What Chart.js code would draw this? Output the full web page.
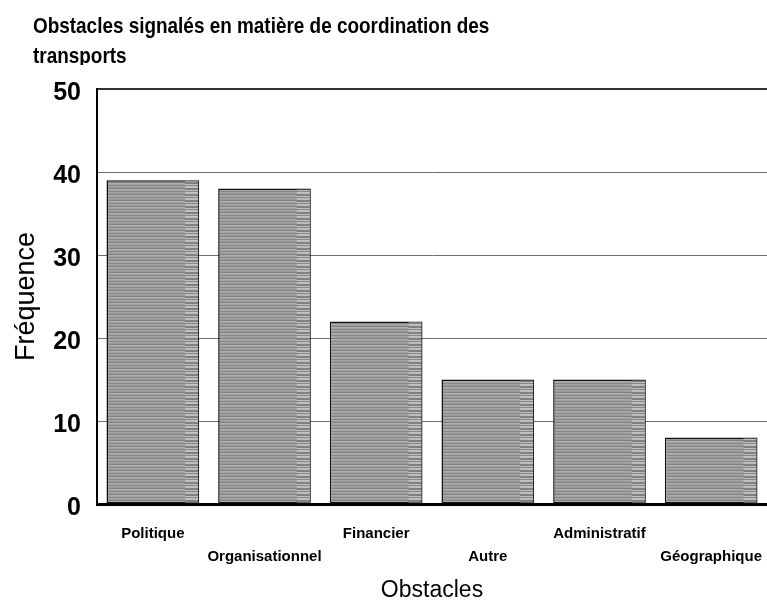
<!DOCTYPE html>
<html>
<head>
<meta charset="utf-8">
<script src="https://cdn.jsdelivr.net/npm/chart.js@4/dist/chart.umd.min.js"></script>
<style>
	html, body { margin: 0; padding: 0; background: #fff; }
	#wrap { position: relative; width: 767px; height: 602px; overflow: hidden; }
	#title {
		position: absolute; left: 33px; top: 11px; height: 54px; overflow: hidden;
		font: bold 22px "Liberation Sans", Arial, sans-serif; line-height: 30px; color: #000;
		white-space: nowrap; margin: 0;
		transform: scaleX(0.86); transform-origin: left top;
	}
	canvas { position: absolute; left: 0; top: 0; }
</style>
</head>
<body>
<div id="wrap">
	<canvas id="obstaclesChart" width="767" height="602"></canvas>
	<div id="title">Obstacles signalés en matière de coordination des<br>transports</div>
</div>
<script>
// Obstacles and how often each one was reported
let categories = ['Politique', 'Organisationnel', 'Financier', 'Autre', 'Administratif', 'Géographique'];
let frequencies = [39, 38, 22, 15, 15, 8];
let yTicks = [0, 10, 20, 30, 40, 50];

// Every second label goes on a lower line so the long names do not collide
let staggeredLabels = categories.map((c, i) => i % 2 ? ['', c] : [c]);

const FONT = '"Liberation Sans", Arial, sans-serif';

// Horizontal grey stripes used to fill the bars
function stripePattern(rows, width) {
	let c = document.createElement('canvas');
	c.width = width;
	c.height = rows.length;
	let g = c.getContext('2d');
	rows.forEach((col, y) => {
		g.fillStyle = col;
		g.fillRect(0, y, width, 1);
	});
	return g.createPattern(c, 'repeat');
}

let ctx = document.querySelector('#obstaclesChart').getContext('2d');
let bodyFill = stripePattern(['#a6a6a6', '#9a9a9a', '#828282', '#adadad', '#a3a3a3', '#888888'], 4);
let edgeFill = stripePattern(['#c0c0c0', '#bcbcbc', '#828282', '#808080', '#bebebe', '#888888'], 4);

// Lighter striped band along the right side of each bar
let edgeBand = {
	id: 'edgeBand',
	afterDatasetsDraw(chart) {
		let c = chart.ctx;
		chart.getDatasetMeta(0).data.forEach(bar => {
			let right = bar.x + bar.width / 2 - 1;
			let top = Math.min(bar.y, bar.base) + 1;
			let bottom = Math.max(bar.y, bar.base) - 1;
			c.save();
			c.fillStyle = edgeFill;
			c.fillRect(right - 13, top, 13, bottom - top);
			c.restore();
		});
	}
};

let chart = new Chart(ctx, {
	type: 'bar',
	data: {
		labels: staggeredLabels,
		datasets: [{
			data: frequencies,
			backgroundColor: bodyFill,
			borderColor: '#111',
			borderWidth: 1.5,
			borderSkipped: false,
			barPercentage: 0.83,
			categoryPercentage: 1
		}]
	},
	options: {
		responsive: false,
		animation: false,
		layout: { padding: { top: 89, left: 10, right: 0, bottom: 0 } },
		plugins: {
			legend: { display: false },
			tooltip: { enabled: false },
			title: { display: false }
		},
		scales: {
			x: {
				grid: { display: false },
				border: { color: '#000', width: 3 },
				afterFit: axis => {
					axis.height = 98;
					axis.paddingLeft = 0;
					axis.paddingRight = 0;
				},
				ticks: {
					color: '#000',
					font: { family: FONT, size: 15, weight: 'bold', lineHeight: 1.53 },
					maxRotation: 0,
					autoSkip: false,
					padding: 10
				},
				title: {
					display: true,
					text: 'Obstacles',
					color: '#000',
					font: { family: FONT, size: 23, lineHeight: 1 },
					padding: { top: 10, bottom: 0 }
				}
			},
			y: {
				min: 0,
				max: 50,
				afterBuildTicks: axis => { axis.ticks = yTicks.map(v => ({ value: v })); },
				afterFit: axis => { axis.width = 87; },
				grid: {
					drawTicks: false,
					color: c => c.tick && c.tick.value === 50 ? '#333' : '#6e6e6e',
					lineWidth: c => c.tick && c.tick.value === 50 ? 2 : 1
				},
				border: { color: '#000', width: 2 },
				ticks: {
					color: '#000',
					font: { family: FONT, size: 25, weight: 'bold' },
					padding: 16,
					labelOffset: 4
				},
				title: {
					display: true,
					text: 'Fréquence',
					color: '#000',
					font: { family: FONT, size: 27 },
					padding: { top: 0, bottom: 12 }
				}
			}
		}
	},
	plugins: [edgeBand]
});
</script>
</body>
</html>
